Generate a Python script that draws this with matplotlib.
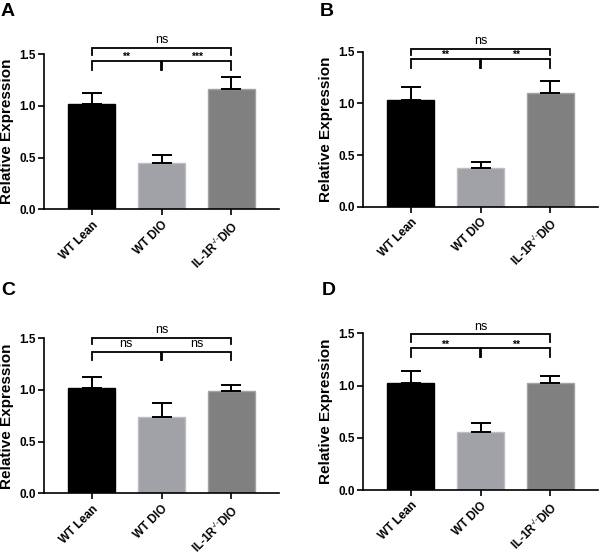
import numpy as np
import matplotlib.pyplot as plt

plt.rcParams['font.family'] = ['Liberation Sans', 'DejaVu Sans']
plt.rcParams['mathtext.fontset'] = 'custom'
plt.rcParams['mathtext.rm'] = 'Liberation Sans'
plt.rcParams['mathtext.bf'] = 'Liberation Sans:bold'

# --- Data ---
groups = ["WT Lean", "WT DIO", r"IL-1R$^{\text{-/-}}$DIO"]

means_a = [1.02, 0.45, 1.16]
errs_a = [0.10, 0.075, 0.12]
means_b = [1.03, 0.37, 1.10]
errs_b = [0.125, 0.065, 0.12]
means_c = [1.02, 0.735, 0.985]
errs_c = [0.11, 0.135, 0.065]
means_d = [1.02, 0.56, 1.02]
errs_d = [0.12, 0.085, 0.07]

# significance labels: (pair 1-2, pair 2-3, pair 1-3)
sig_a = ["**", "***", "ns"]
sig_b = ["**", "**", "ns"]
sig_c = ["ns", "ns", "ns"]
sig_d = ["**", "**", "ns"]

# bracket heights: (inner y, inner leg bottom, outer y, outer leg bottom)
brk_a = (1.435, 1.345, 1.56, 1.49)
brk_b = (1.43, 1.34, 1.53, 1.47)
brk_c = (1.37, 1.29, 1.505, 1.44)
brk_d = (1.355, 1.275, 1.49, 1.42)

colors = ['#000000', '#a1a1a8', '#808080']
edges = ['#000000', '#bdbdc2', '#a3a3a3']


def bracket(ax, x1, x2, y, ybot, label):
    ax.plot([x1, x1, x2, x2], [ybot, y, y, ybot], color='black', lw=1.3,
            clip_on=False, solid_joinstyle='miter')
    if label == 'ns':
        ax.text((x1 + x2) / 2, y + 0.015, label, ha='center', va='bottom',
                fontsize=9, clip_on=False)
    else:
        ax.text((x1 + x2) / 2, y - 0.01, label, ha='center', va='bottom',
                fontsize=7.5, fontweight='bold', clip_on=False)


def panel(rect, letter, letter_xy, means, errs, sig, brk):
    ax = fig.add_axes(rect)
    x = np.arange(3)
    ax.bar(x, means, width=0.67, color=colors, edgecolor=edges, linewidth=1.0, zorder=2)
    ax.errorbar(x, means, yerr=[np.zeros(3), errs], fmt='none', ecolor='black',
                elinewidth=1.4, capsize=7.5, capthick=1.4, zorder=3)
    ax.set_xlim(-0.68, 2.68)
    ax.set_ylim(0, 1.5)
    ax.set_yticks([0.0, 0.5, 1.0, 1.5])
    ax.set_yticklabels(['0.0', '0.5', '1.0', '1.5'], fontsize=8.5, fontweight='bold')
    ax.set_xticks(x)
    ax.set_xticklabels(groups, rotation=45, ha='right', rotation_mode='anchor',
                       fontsize=8.4, fontweight='bold')
    ax.tick_params(axis='x', pad=3)
    ax.set_ylabel("Relative Expression", fontsize=11, fontweight='bold', labelpad=4)
    for s in ['top', 'right']:
        ax.spines[s].set_visible(False)
    for s in ['left', 'bottom']:
        ax.spines[s].set_linewidth(1.2)
    ax.tick_params(axis='both', width=1.2, length=4)
    ax.tick_params(axis='y', pad=2)

    yin, yin_b, yout, yout_b = brk
    bracket(ax, 0, 0.99, yin, yin_b, sig[0])
    bracket(ax, 1.01, 2, yin, yin_b, sig[1])
    bracket(ax, 0, 2, yout, yout_b, sig[2])

    fig.text(letter_xy[0] / 600, 1 - letter_xy[1] / 555, letter, fontsize=14,
             fontweight='bold', va='top', ha='left')
    return ax


fig = plt.figure(figsize=(6, 5.55), dpi=100)

panel([0.0738, 0.6229, 0.391, 0.2798], 'A', (1, 3), means_a, errs_a, sig_a, brk_a)
panel([0.6055, 0.6276, 0.391, 0.2793], 'B', (320, 3), means_b, errs_b, sig_b, brk_b)
panel([0.0738, 0.1112, 0.391, 0.2793], 'C', (1, 282), means_c, errs_c, sig_c, brk_c)
panel([0.6055, 0.1171, 0.391, 0.2823], 'D', (322, 282), means_d, errs_d, sig_d, brk_d)

fig.savefig('out.png', dpi=100)
